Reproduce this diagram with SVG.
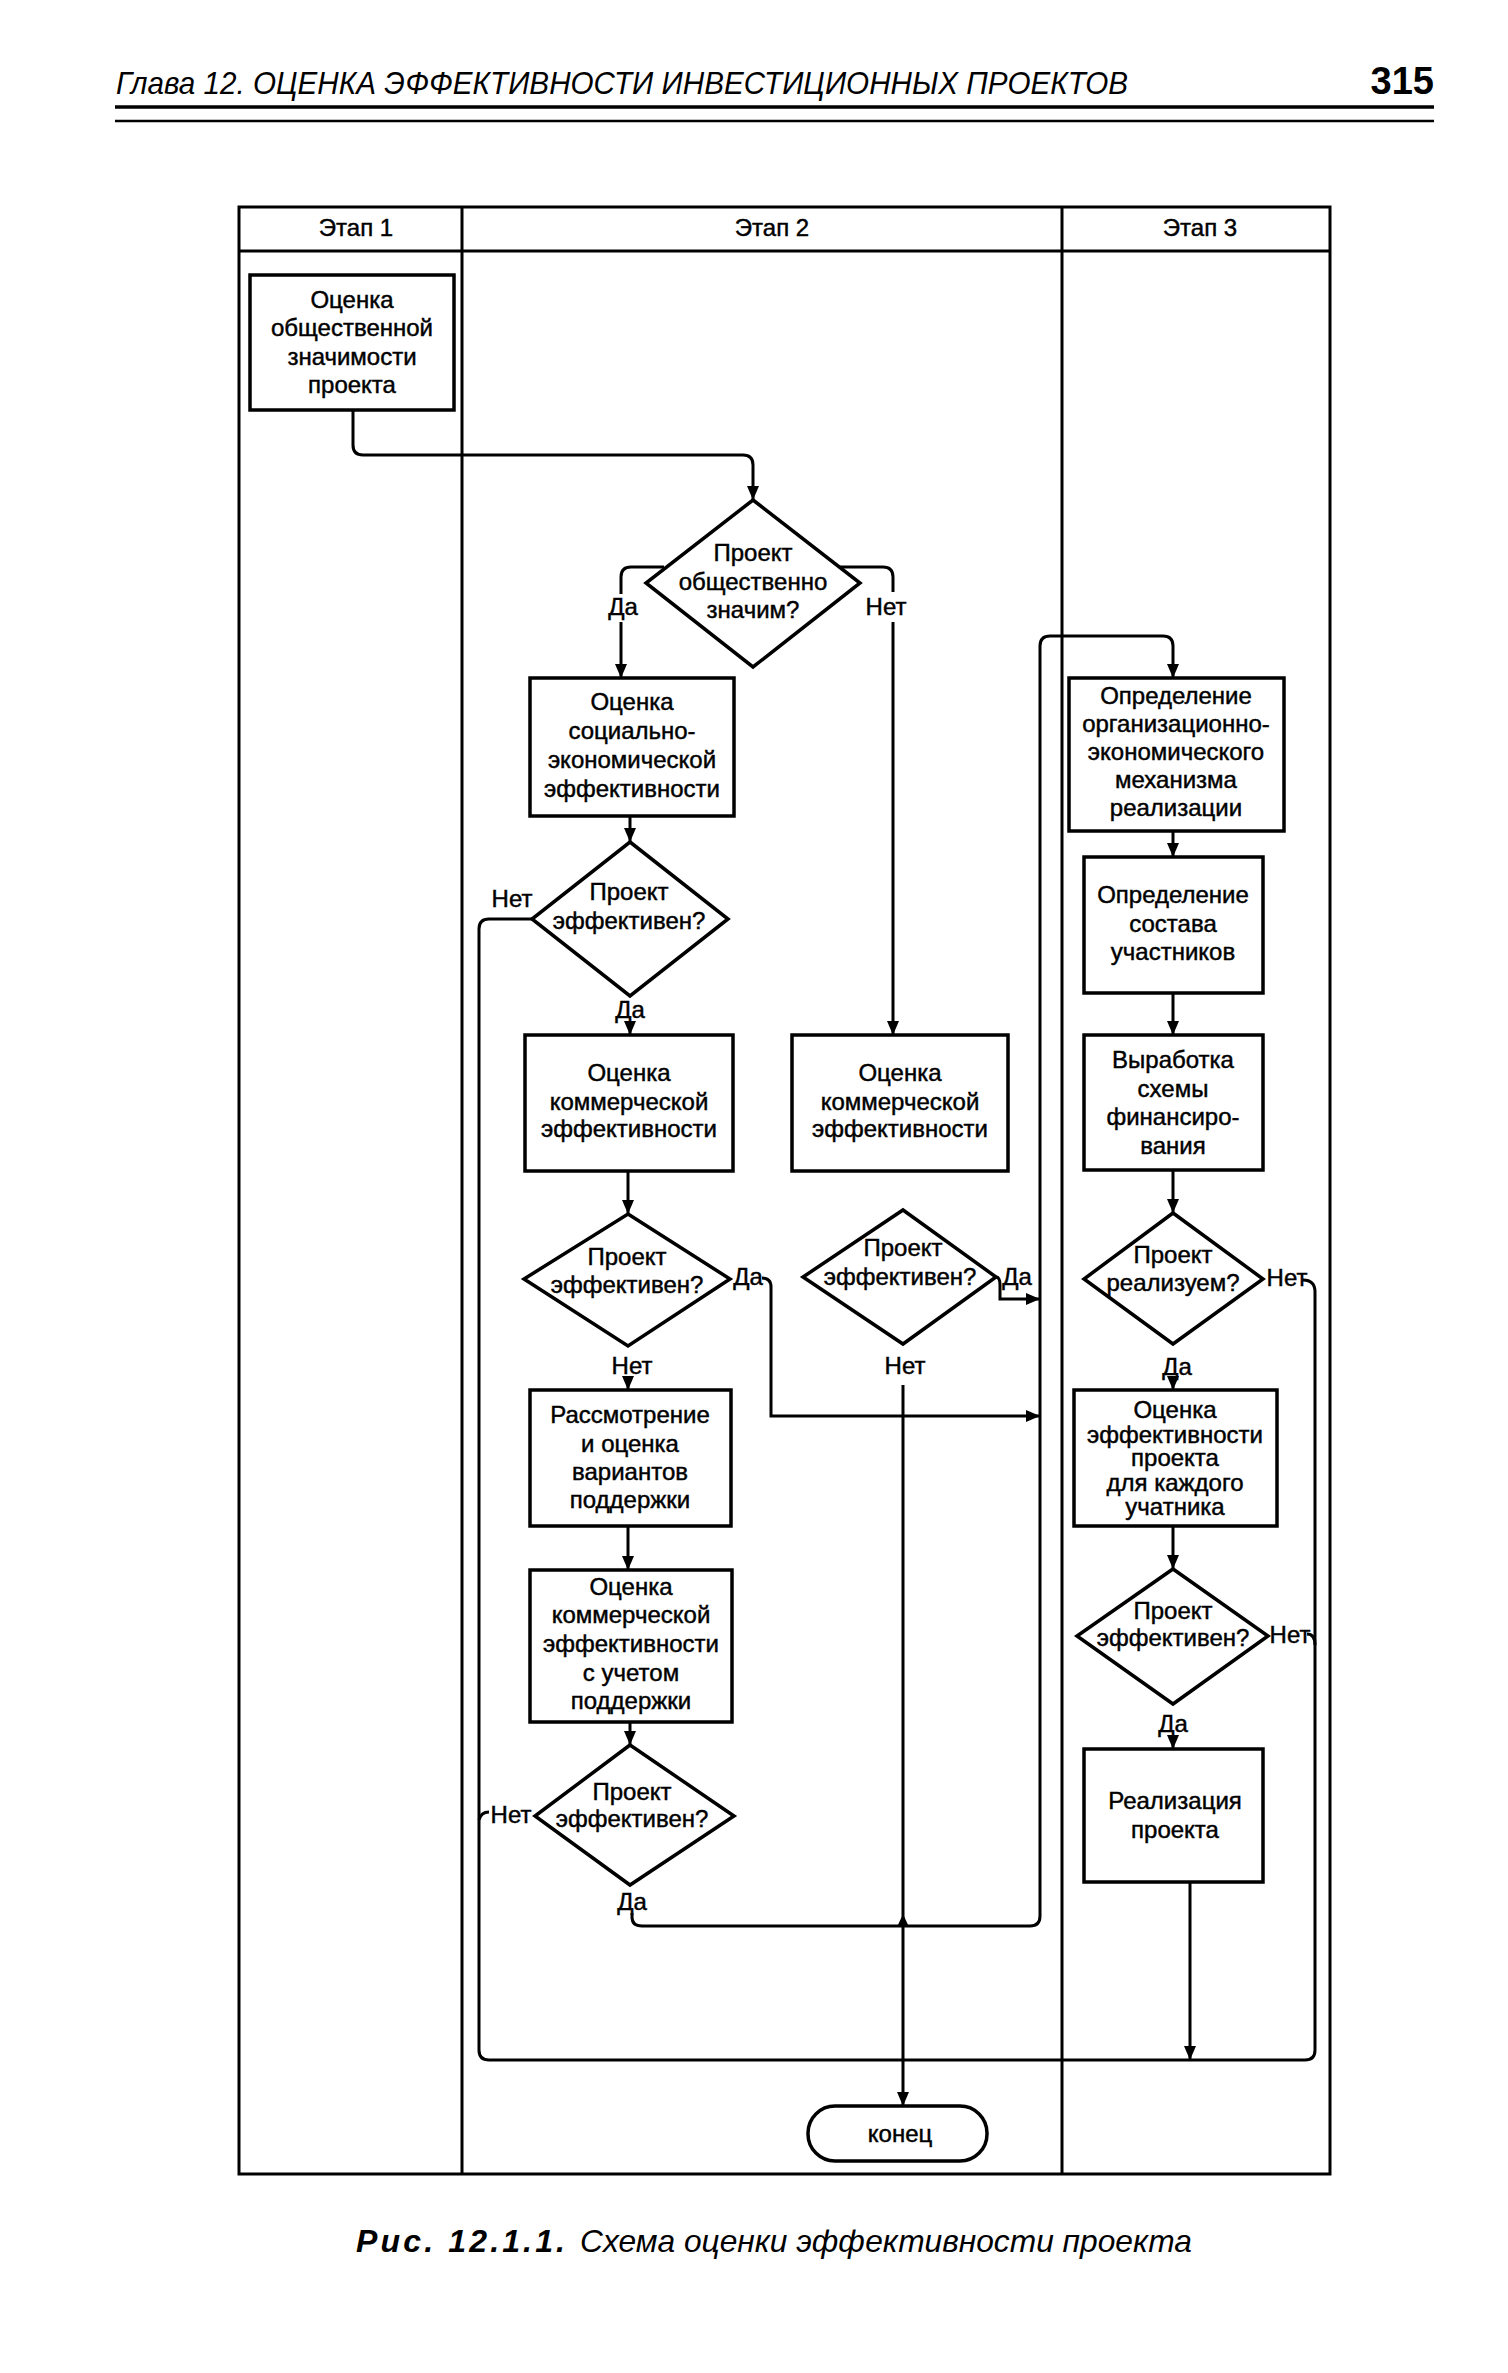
<svg xmlns="http://www.w3.org/2000/svg" width="1508" height="2373" viewBox="0 0 1508 2373">
<defs>
<style>
text{font-family:"Liberation Sans",Arial,sans-serif;fill:#000}
.t{font-size:24px;text-anchor:middle;stroke:#000;stroke-width:0.45}
.lb{font-size:24px;text-anchor:middle;stroke:#000;stroke-width:0.45}
.box{fill:#fff;stroke:#000;stroke-width:3.5}
.frame{fill:none;stroke:#000;stroke-width:3}
.c{fill:none;stroke:#000;stroke-width:3}
.ca{fill:none;stroke:#000;stroke-width:3;marker-end:url(#ah)}
</style>
<marker id="ah" markerUnits="userSpaceOnUse" markerWidth="14" markerHeight="12" refX="14" refY="6" orient="auto" viewBox="0 0 14 12">
<path d="M0,0 L14,6 L0,12 z" fill="#000"/>
</marker>
</defs>
<rect x="0" y="0" width="1508" height="2373" fill="#fff"/>

<g id="page-header">
<text x="116" y="94" font-size="32" font-style="italic" textLength="1012" lengthAdjust="spacingAndGlyphs">Глава 12. ОЦЕНКА ЭФФЕКТИВНОСТИ ИНВЕСТИЦИОННЫХ ПРОЕКТОВ</text>
<text x="1434" y="94" font-size="38" font-weight="bold" text-anchor="end">315</text>
<line x1="115" y1="107" x2="1434" y2="107" stroke="#000" stroke-width="3.5"/>
<line x1="115" y1="121" x2="1434" y2="121" stroke="#000" stroke-width="2.5"/>
</g>

<g id="swimlanes">
<rect class="frame" x="239" y="207" width="1091" height="1967"/>
<line class="frame" x1="239" y1="251" x2="1330" y2="251"/>
<line class="frame" x1="462" y1="207" x2="462" y2="2174"/>
<line class="frame" x1="1062" y1="207" x2="1062" y2="2174"/>
<text class="t" x="356" y="236">Этап 1</text>
<text class="t" x="772" y="236">Этап 2</text>
<text class="t" x="1200" y="236">Этап 3</text>
</g>

<g id="connectors">
<path class="ca" d="M353,410 V445 Q353,455 363,455 H743 Q753,455 753,465 V500"/>
<path class="c" d="M664,567 H631 Q621,567 621,577 V594"/>
<path class="ca" d="M621,622 V678"/>
<path class="c" d="M840,567 H883 Q893,567 893,577 V592"/>
<path class="ca" d="M893,622 V1035"/>
<path class="ca" d="M630,816 V842"/>
<path class="c" d="M532,919 H489 Q479,919 479,929 V2050 Q479,2060 489,2060 H1305 Q1315,2060 1315,2050 V1292 Q1315,1280 1303,1280"/>
<path class="c" d="M1307,1634 Q1315,1634 1315,1645"/>
<path class="c" d="M489,1812 Q481,1812 479,1820"/>
<path class="ca" d="M630,1023 V1035"/>
<path class="ca" d="M628,1171 V1214"/>
<path class="ca" d="M762,1278 Q771,1278 771,1287 V1416 H1040"/>
<path class="ca" d="M996,1277 Q1000,1277 1000,1285 V1299 H1040"/>
<path class="ca" d="M628,1380 V1390"/>
<path class="ca" d="M903,1385 V2106"/>
<path class="ca" d="M628,1526 V1570"/>
<path class="ca" d="M630,1722 V1745"/>
<path class="ca" d="M632,1913 V1917 Q632,1926 642,1926 H1030 Q1040,1926 1040,1916 V646 Q1040,636 1050,636 H1163 Q1173,636 1173,646 V678"/>
<polygon points="903,1914 897,1927 909,1927" fill="#000"/>
<path class="ca" d="M1173,831 V857"/>
<path class="ca" d="M1173,993 V1035"/>
<path class="ca" d="M1173,1170 V1213"/>
<path class="ca" d="M1173,1378 V1390"/>
<path class="ca" d="M1173,1526 V1569"/>
<path class="ca" d="M1173,1737 V1749"/>
<path class="ca" d="M1190,1882 V2060"/>
<text class="lb" x="623" y="615">Да</text>
<text class="lb" x="886" y="615">Нет</text>
<text class="lb" x="512" y="907">Нет</text>
<text class="lb" x="630" y="1018">Да</text>
<text class="lb" x="748" y="1285">Да</text>
<text class="lb" x="632" y="1374">Нет</text>
<text class="lb" x="1017" y="1285">Да</text>
<text class="lb" x="905" y="1374">Нет</text>
<text class="lb" x="511" y="1823">Нет</text>
<text class="lb" x="632" y="1910">Да</text>
<text class="lb" x="1287" y="1286">Нет</text>
<text class="lb" x="1177" y="1375">Да</text>
<text class="lb" x="1290" y="1643">Нет</text>
<text class="lb" x="1173" y="1732">Да</text>
</g>

<g id="n-social-value">
<rect class="box" x="250" y="275" width="204" height="135"/>
<text class="t" x="352" y="308">Оценка</text>
<text class="t" x="352" y="336">общественной</text>
<text class="t" x="352" y="365">значимости</text>
<text class="t" x="352" y="393">проекта</text>
</g>

<g id="d-public">
<polygon class="box" points="753,500 860,583 753,667 646,583"/>
<text class="t" x="753" y="561">Проект</text>
<text class="t" x="753" y="590">общественно</text>
<text class="t" x="753" y="618">значим?</text>
</g>

<g id="n-socio-econ">
<rect class="box" x="530" y="678" width="204" height="138"/>
<text class="t" x="632" y="710">Оценка</text>
<text class="t" x="632" y="739">социально-</text>
<text class="t" x="632" y="768">экономической</text>
<text class="t" x="632" y="797">эффективности</text>
</g>

<g id="d-eff-1">
<polygon class="box" points="630,842 728,919 630,996 532,919"/>
<text class="t" x="629" y="900">Проект</text>
<text class="t" x="629" y="929">эффективен?</text>
</g>

<g id="n-comm-left">
<rect class="box" x="525" y="1035" width="208" height="136"/>
<text class="t" x="629" y="1081">Оценка</text>
<text class="t" x="629" y="1110">коммерческой</text>
<text class="t" x="629" y="1137">эффективности</text>
</g>

<g id="n-comm-right">
<rect class="box" x="792" y="1035" width="216" height="136"/>
<text class="t" x="900" y="1081">Оценка</text>
<text class="t" x="900" y="1110">коммерческой</text>
<text class="t" x="900" y="1137">эффективности</text>
</g>

<g id="d-eff-2">
<polygon class="box" points="628,1214 730,1279 628,1346 524,1279"/>
<text class="t" x="627" y="1265">Проект</text>
<text class="t" x="627" y="1293">эффективен?</text>
</g>

<g id="d-eff-3">
<polygon class="box" points="903,1210 996,1277 903,1344 803,1277"/>
<text class="t" x="903" y="1256">Проект</text>
<text class="t" x="900" y="1285">эффективен?</text>
</g>

<g id="n-support">
<rect class="box" x="530" y="1390" width="201" height="136"/>
<text class="t" x="630" y="1423">Рассмотрение</text>
<text class="t" x="630" y="1452">и оценка</text>
<text class="t" x="630" y="1480">вариантов</text>
<text class="t" x="630" y="1508">поддержки</text>
</g>

<g id="n-comm-support">
<rect class="box" x="530" y="1570" width="202" height="152"/>
<text class="t" x="631" y="1595">Оценка</text>
<text class="t" x="631" y="1623">коммерческой</text>
<text class="t" x="631" y="1652">эффективности</text>
<text class="t" x="631" y="1681">с учетом</text>
<text class="t" x="631" y="1709">поддержки</text>
</g>

<g id="d-eff-4">
<polygon class="box" points="630,1745 734,1816 630,1885 535,1816"/>
<text class="t" x="632" y="1800">Проект</text>
<text class="t" x="632" y="1827">эффективен?</text>
</g>

<g id="n-mechanism">
<rect class="box" x="1069" y="678" width="215" height="153"/>
<text class="t" x="1176" y="704">Определение</text>
<text class="t" x="1176" y="732">организационно-</text>
<text class="t" x="1176" y="760">экономического</text>
<text class="t" x="1176" y="788">механизма</text>
<text class="t" x="1176" y="816">реализации</text>
</g>

<g id="n-participants">
<rect class="box" x="1084" y="857" width="179" height="136"/>
<text class="t" x="1173" y="903">Определение</text>
<text class="t" x="1173" y="932">состава</text>
<text class="t" x="1173" y="960">участников</text>
</g>

<g id="n-financing">
<rect class="box" x="1084" y="1035" width="179" height="135"/>
<text class="t" x="1173" y="1068">Выработка</text>
<text class="t" x="1173" y="1097">схемы</text>
<text class="t" x="1173" y="1125">финансиро-</text>
<text class="t" x="1173" y="1154">вания</text>
</g>

<g id="d-feasible">
<polygon class="box" points="1173,1213 1263,1279 1173,1344 1084,1279"/>
<text class="t" x="1173" y="1263">Проект</text>
<text class="t" x="1173" y="1291">реализуем?</text>
</g>

<g id="n-each">
<rect class="box" x="1074" y="1390" width="203" height="136"/>
<text class="t" x="1175" y="1418">Оценка</text>
<text class="t" x="1175" y="1443">эффективности</text>
<text class="t" x="1175" y="1466">проекта</text>
<text class="t" x="1175" y="1491">для каждого</text>
<text class="t" x="1175" y="1515">учатника</text>
</g>

<g id="d-eff-5">
<polygon class="box" points="1173,1569 1268,1636 1173,1704 1077,1636"/>
<text class="t" x="1173" y="1619">Проект</text>
<text class="t" x="1173" y="1646">эффективен?</text>
</g>

<g id="n-realize">
<rect class="box" x="1084" y="1749" width="179" height="133"/>
<text class="t" x="1175" y="1809">Реализация</text>
<text class="t" x="1175" y="1838">проекта</text>
</g>

<g id="n-end">
<rect class="box" x="808" y="2106" width="179" height="55" rx="27" ry="27"/>
<text class="t" x="900" y="2142">конец</text>
</g>

<g id="caption">
<text x="356" y="2252" font-size="32" font-weight="bold" font-style="italic" textLength="209" lengthAdjust="spacing">Рис. 12.1.1.</text>
<text x="580" y="2252" font-size="32" font-style="italic" textLength="612" lengthAdjust="spacingAndGlyphs">Схема оценки эффективности проекта</text>
</g>
</svg>
